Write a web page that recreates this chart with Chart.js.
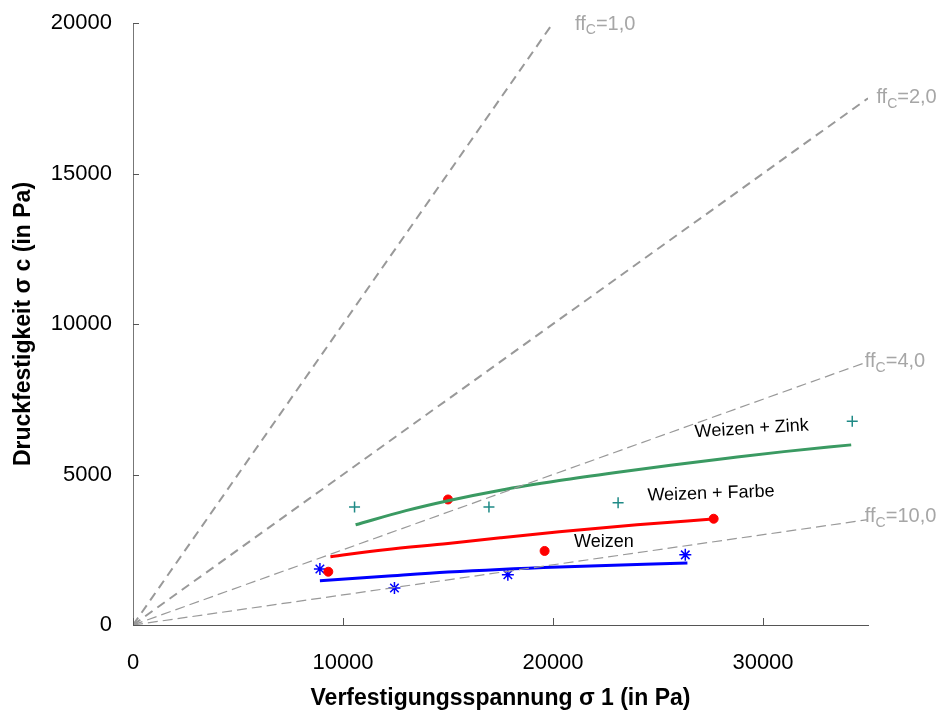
<!DOCTYPE html>
<html>
<head>
<meta charset="utf-8">
<script src="https://cdn.jsdelivr.net/npm/chart.js@4/dist/chart.umd.min.js"></script>
<style>
  html, body { margin: 0; padding: 0; background: #fff; }
  #wrap { width: 943px; height: 716px; }
</style>
</head>
<body>
<div id="wrap"><canvas id="chart"></canvas></div>
<script>
// axis ticks
var xTicks = [0, 10000, 20000, 30000];
var yTicks = [0, 5000, 10000, 15000, 20000];

// ff_c reference lines (start, end)
var ff1 = [{x: 0, y: 0}, {x: 20000, y: 20000}];
var ff2 = [{x: 0, y: 0}, {x: 35000, y: 17500}];
var ff4 = [{x: 0, y: 0}, {x: 35000, y: 8750}];
var ff10 = [{x: 0, y: 0}, {x: 35000, y: 3500}];

// measured points
var weizen_pts = [{x: 8900, y: 1860}, {x: 12450, y: 1230}, {x: 17850, y: 1670}, {x: 26300, y: 2330}];
var farbe_pts = [{x: 9300, y: 1770}, {x: 15000, y: 4170}, {x: 19600, y: 2460}, {x: 27650, y: 3530}];
var zink_pts = [{x: 10550, y: 3920}, {x: 16950, y: 3920}, {x: 23100, y: 4060}, {x: 34250, y: 6770}];

// fitted curves
var weizen_fit = [{x: 8900, y: 1470}, {x: 12000, y: 1620}, {x: 15000, y: 1760}, {x: 20300, y: 1930}, {x: 26400, y: 2060}];
var farbe_fit = [{x: 9400, y: 2270}, {x: 12000, y: 2500}, {x: 15000, y: 2710}, {x: 17500, y: 2900}, {x: 20300, y: 3100}, {x: 24000, y: 3330}, {x: 27600, y: 3520}];
var zink_fit = [{x: 10600, y: 3330}, {x: 13000, y: 3800}, {x: 15000, y: 4130}, {x: 17500, y: 4480}, {x: 20300, y: 4800}, {x: 23000, y: 5070}, {x: 25600, y: 5310}, {x: 28300, y: 5540}, {x: 31000, y: 5760}, {x: 34200, y: 5984}];

// text labels in data units
var ff_labels = [
	{x: 21050, y: 19950, num: '=1,0'},
	{x: 35400, y: 17520, num: '=2,0'},
	{x: 34850, y: 8740, num: '=4,0'},
	{x: 34850, y: 3590, num: '=10,0'}
];
var series_labels = [
	{x: 26750, y: 6400, text: 'Weizen + Zink', rot: -3.5},
	{x: 24500, y: 4290, text: 'Weizen + Farbe', rot: -2},
	{x: 21000, y: 2760, text: 'Weizen', rot: 0}
];

var FONT = "'Liberation Sans', Arial, sans-serif";

function dashed(data, w, dash){
	return {
		data: data, showLine: true, pointRadius: 0,
		borderColor: '#999999', borderWidth: w, borderDash: dash, fill: false
	};
}
function fitLine(data, color){
	return {
		data: data, showLine: true, pointRadius: 0,
		borderColor: color, borderWidth: 3, fill: false, cubicInterpolationMode: 'monotone'
	};
}
function markers(data, color, style, r, bw){
	return {
		data: data, showLine: false, pointStyle: style, pointRadius: r,
		pointBorderColor: color, pointBackgroundColor: color, pointBorderWidth: bw
	};
}

var extras = {
	id: 'extras',
	afterDraw: function(chart){
		var c = chart.ctx, xs = chart.scales.x, ys = chart.scales.y, a = chart.chartArea;
		c.save();
		// inward ticks
		c.strokeStyle = '#555';
		c.lineWidth = 1;
		xs.ticks.forEach(function(t){
			var px = Math.round(xs.getPixelForValue(t.value)) + 0.5;
			c.beginPath(); c.moveTo(px, a.bottom); c.lineTo(px, a.bottom - 7); c.stroke();
		});
		ys.ticks.forEach(function(t){
			var py = Math.round(ys.getPixelForValue(t.value)) + 0.5;
			c.beginPath(); c.moveTo(a.left, py); c.lineTo(a.left + 6, py); c.stroke();
		});
		// ff labels
		c.fillStyle = '#a6a6a6';
		c.textBaseline = 'middle';
		c.textAlign = 'left';
		ff_labels.forEach(function(l){
			var px = xs.getPixelForValue(l.x), py = ys.getPixelForValue(l.y);
			c.font = '20px ' + FONT;
			c.fillText('ff', px, py);
			var w = c.measureText('ff').width;
			c.font = '14px ' + FONT;
			c.fillText('C', px + w, py + 6);
			var w2 = c.measureText('C').width;
			c.font = '20px ' + FONT;
			c.fillText(l.num, px + w + w2, py);
		});
		// series labels
		c.fillStyle = '#000';
		c.font = '18px ' + FONT;
		series_labels.forEach(function(l){
			var px = xs.getPixelForValue(l.x), py = ys.getPixelForValue(l.y);
			c.save();
			c.translate(px, py);
			c.rotate(l.rot * Math.PI / 180);
			c.fillText(l.text, 0, 0);
			c.restore();
		});
		c.restore();
	}
};

function plain(v){ return String(v); }

new Chart(document.getElementById('chart'), {
	type: 'scatter',
	data: {
		datasets: [
			dashed(ff1, 2, [9, 6]),
			dashed(ff2, 2, [9, 6]),
			dashed(ff4, 1.2, [10, 5]),
			dashed(ff10, 1.2, [10, 5]),
			fitLine(zink_fit, '#3a9a62'),
			fitLine(farbe_fit, '#ff0000'),
			fitLine(weizen_fit, '#0000ff'),
			markers(zink_pts, '#1f8a86', 'cross', 5.5, 1.5),
			markers(farbe_pts, '#ff0000', 'circle', 4.5, 1),
			markers(weizen_pts, '#0000ff', 'star', 6, 1.5)
		]
	},
	options: {
		responsive: true,
		maintainAspectRatio: false,
		animation: false,
		layout: { padding: { top: 23, right: 75, bottom: 0, left: 0 } },
		plugins: { legend: { display: false }, tooltip: { enabled: false } },
		scales: {
			x: {
				type: 'linear', min: 0, max: 35000,
				afterBuildTicks: function(s){ s.ticks = xTicks.map(function(v){ return {value: v}; }); },
				afterFit: function(s){ s.height = 91; },
				grid: { display: false, drawTicks: false },
				border: { color: '#555', width: 1 },
				ticks: { color: '#000', font: { family: FONT, size: 22 }, padding: 25, maxRotation: 0, autoSkip: false, callback: plain },
				title: { display: true, text: 'Verfestigungsspannung σ 1 (in Pa)', color: '#000',
					font: { family: FONT, size: 23, weight: 'bold' }, padding: { top: 2, bottom: 4 } }
			},
			y: {
				type: 'linear', min: 0, max: 20000,
				afterBuildTicks: function(s){ s.ticks = yTicks.map(function(v){ return {value: v}; }); },
				afterFit: function(s){ s.width = 133; s.paddingTop = 0; s.paddingBottom = 0; },
				grid: { display: false, drawTicks: false },
				border: { color: '#777', width: 1 },
				ticks: { color: '#000', font: { family: FONT, size: 22 }, padding: 21, autoSkip: false, callback: plain },
				title: { display: true, text: 'Druckfestigkeit σ c (in Pa)', color: '#000',
					font: { family: FONT, size: 23, weight: 'bold' }, padding: { top: 10, bottom: 4 } }
			}
		}
	},
	plugins: [extras]
});
</script>
</body>
</html>
